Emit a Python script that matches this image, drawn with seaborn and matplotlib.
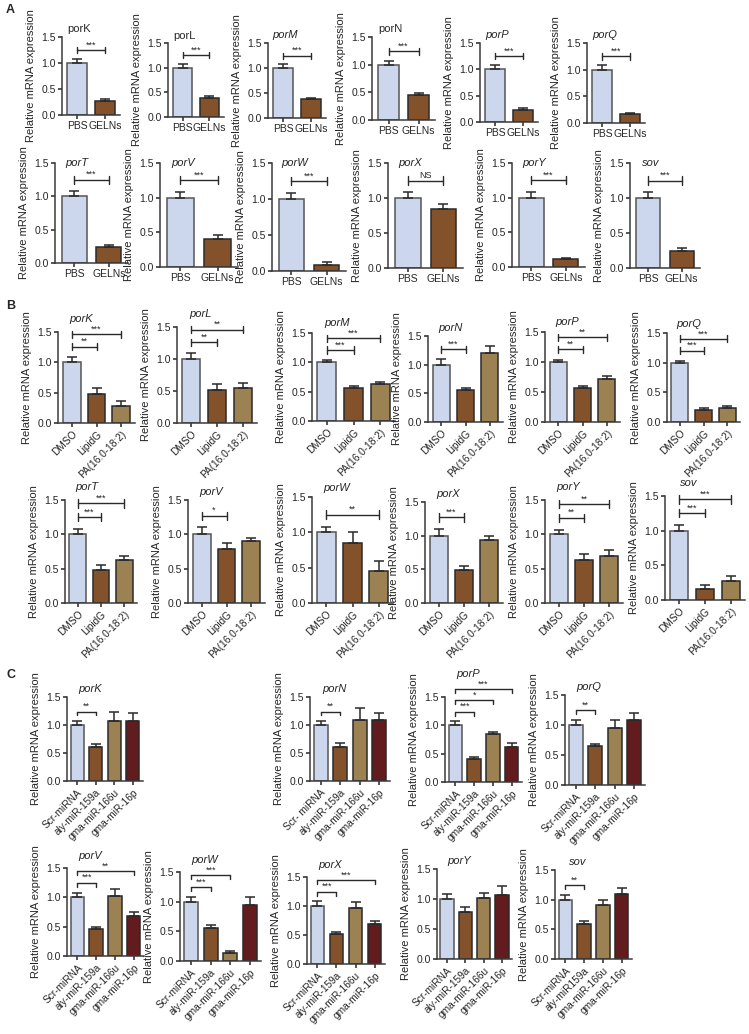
import seaborn as sns
import numpy as np
import pandas as pd
import matplotlib as mpl
import matplotlib.pyplot as plt

sns.set_style("ticks")
plt.rcParams['font.family'] = ['Liberation Sans', 'DejaVu Sans']
mpl.rc('axes', linewidth=1.1, edgecolor='#3a3a3a')
mpl.rc('xtick', direction='out')
mpl.rc('ytick', direction='out')
mpl.rc('xtick.major', size=3, width=1.1)
mpl.rc('ytick.major', size=3, width=1.1)

# ---------------- data ----------------
genes_A = ["porK", "porL", "porM", "porN", "porP", "porQ",
           "porT", "porV", "porW", "porX", "porY", "sov"]
groups_A = ["PBS", "GELNs"]
mean_A = [[1.0, 0.27], [1.0, 0.39], [1.0, 0.38], [1.0, 0.45], [1.0, 0.23], [1.0, 0.17],
          [1.0, 0.24], [1.0, 0.41], [1.0, 0.09], [1.0, 0.84], [1.0, 0.12], [1.0, 0.25]]
err_A = [[0.08, 0.04], [0.08, 0.04], [0.08, 0.03], [0.07, 0.04], [0.08, 0.03], [0.08, 0.02],
         [0.08, 0.03], [0.08, 0.05], [0.08, 0.03], [0.08, 0.08], [0.08, 0.01], [0.08, 0.03]]
sig_A = [[(0, 1, "***")]] * 9 + [[(0, 1, "NS")]] + [[(0, 1, "***")]] * 2

genes_B = ["porK", "porL", "porM", "porN", "porP", "porQ",
           "porT", "porV", "porW", "porX", "porY", "sov"]
groups_B = ["DMSO", "LipidG", "PA(16.0-18:2)"]
mean_B = [[1.0, 0.47, 0.28], [1.0, 0.52, 0.55], [1.0, 0.56, 0.63], [1.0, 0.55, 1.20],
          [1.0, 0.57, 0.71], [1.0, 0.21, 0.23], [1.0, 0.48, 0.62], [1.0, 0.78, 0.90],
          [1.0, 0.85, 0.45], [1.0, 0.49, 0.93], [1.0, 0.62, 0.69], [1.0, 0.16, 0.28]]
err_B = [[0.09, 0.10, 0.09], [0.09, 0.09, 0.07], [0.04, 0.03, 0.03], [0.10, 0.05, 0.13],
         [0.04, 0.03, 0.05], [0.03, 0.03, 0.04], [0.08, 0.08, 0.06], [0.10, 0.10, 0.05],
         [0.08, 0.15, 0.14], [0.10, 0.06, 0.06], [0.07, 0.10, 0.08], [0.08, 0.06, 0.07]]
sig_B = [[(0, 1, "**"), (0, 2, "***")], [(0, 1, "**"), (0, 2, "**")],
         [(0, 1, "***"), (0, 2, "***")], [(0, 1, "***")],
         [(0, 1, "**"), (0, 2, "**")], [(0, 1, "***"), (0, 2, "***")],
         [(0, 1, "***"), (0, 2, "***")], [(0, 1, "*")], [(0, 2, "**")],
         [(0, 1, "***")], [(0, 1, "**"), (0, 2, "**")], [(0, 1, "***"), (0, 2, "***")]]

genes_C = ["porK", "porN", "porP", "porQ", "porV", "porW", "porX", "porY", "sov"]
groups_C = ["Scr-miRNA", "aly-miR-159a", "gma-miR-166u", "gma-miR-16p"]
groups_C_porN = ["Scr- miRNA", "aly-miR-159a", "gma-miR-166u", "gma-miR-16p"]
groups_C_sov = ["Scr-miRNA", "aly-miR159a", "gma-miR-166u", "gma-miR-16p"]
mean_C = [[1.0, 0.60, 1.07, 1.08], [1.0, 0.61, 1.09, 1.09], [1.0, 0.40, 0.84, 0.62],
          [1.0, 0.65, 0.95, 1.09], [1.0, 0.46, 1.02, 0.69], [1.0, 0.56, 0.14, 0.95],
          [1.0, 0.51, 0.96, 0.69], [1.0, 0.79, 1.02, 1.06], [1.0, 0.59, 0.91, 1.09]]
err_C = [[0.07, 0.06, 0.16, 0.13], [0.07, 0.06, 0.22, 0.12], [0.07, 0.04, 0.04, 0.06],
         [0.08, 0.03, 0.13, 0.11], [0.08, 0.04, 0.13, 0.06], [0.08, 0.04, 0.03, 0.13],
         [0.08, 0.05, 0.11, 0.05], [0.08, 0.07, 0.08, 0.16], [0.08, 0.05, 0.09, 0.11]]
sig_C = [[(0, 1, "**")], [(0, 1, "**")], [(0, 1, "***"), (0, 2, "*"), (0, 3, "***")],
         [(0, 1, "**")], [(0, 1, "***"), (0, 3, "**")], [(0, 1, "***"), (0, 2, "***")],
         [(0, 1, "***"), (0, 3, "***")], [], [(0, 1, "**")]]

colors = ["#c6d5f3", "#93501b", "#a88546", "#6e1013"]

# ---------------- layout (pixel boxes: y-axis x, y of 1.5, x-axis end, y of 0) ----------------
W, H = 749, 1034
boxes_A = [(62, 37, 120, 115), (168, 43, 224, 117), (268, 43, 326, 118), (372, 37, 435, 120),
           (480, 43, 538, 122), (587, 43, 645, 123),
           (55, 163, 128, 263), (160, 163, 238, 267), (272, 163, 346, 271),
           (388, 163, 463, 268), (512, 163, 585, 267), (630, 163, 700, 268)]
boxes_B = [(58, 332, 135, 423), (177, 327, 257, 423), (312, 333, 395, 421),
           (428, 336, 503, 422), (545, 332, 620, 422), (667, 333, 740, 422),
           (65, 500, 137, 603), (188, 500, 265, 603), (312, 497, 393, 603),
           (425, 502, 503, 603), (545, 500, 623, 603), (665, 496, 745, 600)]
boxes_C = [(67, 697, 143, 781), (310, 697, 390, 781), (445, 697, 522, 782), (565, 695, 645, 785),
           (67, 868, 144, 956), (180, 872, 261, 961), (307, 877, 385, 964),
           (437, 869, 512, 959), (555, 870, 632, 959)]


def make_ax(fig, box):
    x0, y15, x1, y0 = box
    return fig.add_axes([x0 / W, 1 - y0 / H, (x1 - x0) / W, (y0 - y15) / H])


def bracket(ax, i, j, y, text, down_caps):
    kw = dict(color='#2a2a2a', lw=1.0, clip_on=False)
    ax.plot([i, j], [y, y], **kw)
    if down_caps:
        ax.plot([i, i], [y, y - 0.07], **kw)
        ax.plot([j, j], [y, y - 0.07], **kw)
    else:
        ax.plot([i, i], [y - 0.06, y + 0.06], **kw)
        ax.plot([j, j], [y - 0.06, y + 0.06], **kw)
    ax.text((i + j) / 2, y + 0.01, text, ha='center', va='bottom', fontsize=6.5, clip_on=False)


def panel(ax, gene, groups, means, errs, sigs, rot, italic=True, down_caps=False, mid_title=False):
    n = len(groups)
    df = pd.DataFrame({"group": groups, "value": means})
    sns.barplot(data=df, x="group", y="value", hue="group", order=groups, hue_order=groups,
                palette=colors[:n], width=0.72, edgecolor='#2a2a2a', linewidth=1.1,
                legend=False, ax=ax)
    ax.patches[0].set_edgecolor('#555555')
    ax.errorbar(range(n), means, yerr=[np.zeros(n), errs], fmt='none', ecolor='#2a2a2a',
                elinewidth=1.1, capsize=3.5, capthick=1.1)
    ax.set_ylim(0, 1.5)
    ax.set_xlim(-0.55, n - 0.45)
    ax.set_yticks([0, 0.5, 1.0, 1.5])
    ax.set_yticklabels(["0.0", "0.5", "1.0", "1.5"], fontsize=7.5)
    ax.set_xlabel("")
    ax.set_ylabel("Relative mRNA expression", fontsize=8, labelpad=4)
    ax.set_xticks(range(n))
    if rot:
        ax.set_xticklabels(groups, rotation=45, ha='right', rotation_mode='anchor', fontsize=7.3)
    else:
        ax.set_xticklabels(groups, fontsize=7.5)
    ax.tick_params(axis='both', pad=1.5)
    sns.despine(ax=ax)

    top0 = means[0] + errs[0]
    ytop = 1.38
    for level, (i, j, t) in enumerate(sigs):
        y = top0 + 0.17 + 0.2 * level
        bracket(ax, i, j, y, t, down_caps)
        ytop = max(ytop, y)
    style = 'italic' if italic else 'normal'
    tr = mpl.transforms.blended_transform_factory(ax.transAxes, ax.transData)
    if mid_title:
        ax.text(0.3, 1.5, gene, transform=tr, fontsize=8, style=style,
                ha='center', va='center', clip_on=False)
    else:
        ax.text(0.3, ytop + 0.17, gene, transform=tr, fontsize=8, style=style,
                ha='center', va='bottom', clip_on=False)


fig = plt.figure(figsize=(W / 100, H / 100), dpi=100)

plain_A = {"porK", "porL", "porN"}
for k, g in enumerate(genes_A):
    ax = make_ax(fig, boxes_A[k])
    panel(ax, g, groups_A, mean_A[k], err_A[k], sig_A[k], rot=False,
          italic=(g not in plain_A or k >= 6), mid_title=(k >= 6))

for k, g in enumerate(genes_B):
    ax = make_ax(fig, boxes_B[k])
    panel(ax, g, groups_B, mean_B[k], err_B[k], sig_B[k], rot=True)

for k, g in enumerate(genes_C):
    grp = groups_C
    if g == "porN":
        grp = groups_C_porN
    elif g == "sov":
        grp = groups_C_sov
    ax = make_ax(fig, boxes_C[k])
    panel(ax, g, grp, mean_C[k], err_C[k], sig_C[k], rot=True, down_caps=True)

for lab, yy in [("A", 10), ("B", 306), ("C", 675)]:
    fig.text(6 / W, 1 - yy / H, lab, fontsize=9, fontweight='bold', va='center', ha='left')

fig.savefig("out.png", dpi=100)
